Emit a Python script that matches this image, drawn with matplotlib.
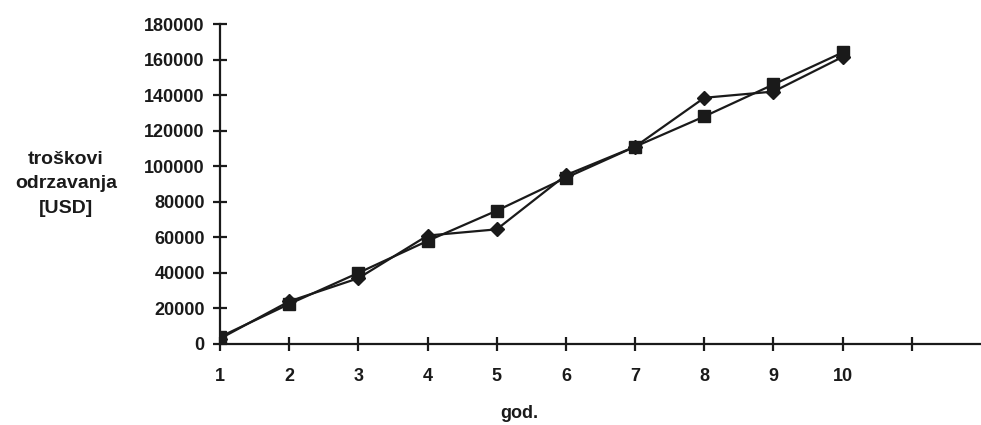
import matplotlib.pyplot as plt

godine = [1, 2, 3, 4, 5, 6, 7, 8, 9, 10]
troskovi_romb = [3000, 24000, 37000, 61000, 64500, 95000, 111000, 138500, 142000, 161500]
troskovi_kvadrat = [4000, 22500, 40000, 58000, 75000, 93500, 111000, 128000, 146000, 164000]
x_ticks = [1, 2, 3, 4, 5, 6, 7, 8, 9, 10, 11]
x_tick_labels = ["1", "2", "3", "4", "5", "6", "7", "8", "9", "10", ""]
y_ticks = list(range(0, 180001, 20000))

plt.rcParams["font.family"] = ["Liberation Sans", "DejaVu Sans"]

fig = plt.figure(figsize=(9.81, 4.25), dpi=100)
ax = fig.add_axes([0.2243, 0.1906, 0.7757, 0.7529])

c = "#1a1a1a"
ax.plot(godine, troskovi_romb, color=c, lw=1.6, marker="D", ms=7, mfc=c, mec=c, zorder=3)
ax.plot(godine, troskovi_kvadrat, color=c, lw=1.6, marker="s", ms=9, mfc=c, mec=c, zorder=3)

ax.set_xlim(1, 12)
ax.set_ylim(0, 180000)
ax.set_xticks(x_ticks)
ax.set_xticklabels(x_tick_labels)
ax.set_yticks(y_ticks)
ax.set_yticklabels([str(v) for v in y_ticks])

for s in ["top", "right"]:
    ax.spines[s].set_visible(False)
for s in ["left", "bottom"]:
    ax.spines[s].set_linewidth(1.6)
    ax.spines[s].set_color(c)
    ax.spines[s].set_clip_on(False)

ax.tick_params(axis="both", direction="inout", length=10, width=1.6, color=c,
               labelsize=13, labelcolor=c)
ax.tick_params(axis="x", pad=12)
ax.tick_params(axis="y", pad=6)
for t in ax.get_xticklabels() + ax.get_yticklabels():
    t.set_fontweight("bold")

# natpis y-osi je vodoravan, lijevo od osi
fig.text(66 / 981, 1 - 184 / 425, "troškovi\nodrzavanja\n[USD]", ha="center", va="center",
         fontsize=14, fontweight="bold", color=c, linespacing=1.6)
fig.text(519 / 981, 1 - 413 / 425, "god.", ha="center", va="center",
         fontsize=13, fontweight="bold", color=c)

fig.savefig("out.png", dpi=100)
